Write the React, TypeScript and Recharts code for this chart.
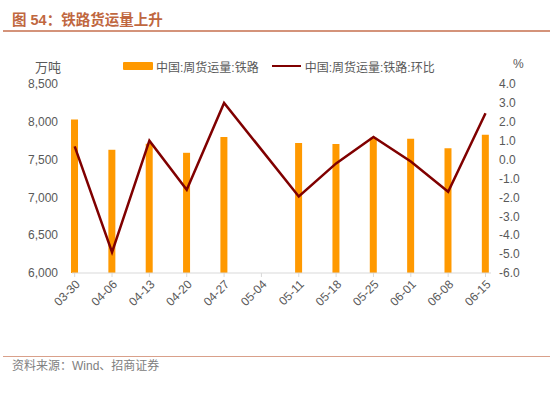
import { ComposedChart, Bar, Line, XAxis, YAxis } from 'recharts';

const weeks = ['03-30', '04-06', '04-13', '04-20', '04-27', '05-04', '05-11', '05-18', '05-25', '06-01', '06-08', '06-15'];
const railVolume = [8030, 7630, 7710, 7590, 7800, null, 7720, 7705, 7790, 7775, 7650, 7830];
const railWoW = [0.7, -4.9, 1.0, -1.6, 3.0, null, -1.95, -0.2, 1.2, -0.1, -1.7, 2.45];
const leftTicks = [6000, 6500, 7000, 7500, 8000, 8500];
const rightTicks = [-6, -5, -4, -3, -2, -1, 0, 1, 2, 3, 4];

const data = weeks.map((w, i) => ({ i, week: w, volume: railVolume[i], wow: railWoW[i] }));

const FONT = '"Liberation Sans", "Noto Sans CJK SC", sans-serif';
const TEXT = '#595959';

export default function App() {
  return (
    <div style={{ position: 'absolute', left: 0, top: 0, width: 550, height: 394, background: '#fff', fontFamily: FONT }}>
      <div style={{ position: 'absolute', left: 12, top: 10, fontSize: 14.5, fontWeight: 'bold', color: '#c0673f', lineHeight: '20px' }}>
        图 54：铁路货运量上升
      </div>
      <div style={{ position: 'absolute', left: 3, top: 30, width: 547, height: 2, background: '#d4937a' }} />

      <div style={{ position: 'absolute', left: 35, top: 57, fontSize: 13, color: TEXT }}>万吨</div>
      <div style={{ position: 'absolute', left: 513, top: 57, fontSize: 12, color: TEXT }}>%</div>

      <div style={{ position: 'absolute', left: 123, top: 57, fontSize: 12, color: TEXT, display: 'flex', alignItems: 'center', height: 18 }}>
        <span style={{ display: 'inline-block', width: 30, height: 8, background: '#ff9900', borderRadius: 1, marginRight: 3 }} />
        <span>中国:周货运量:铁路</span>
        <span style={{ display: 'inline-block', width: 29, height: 2.5, background: '#800000', marginLeft: 13, marginRight: 4 }} />
        <span>中国:周货运量:铁路:环比</span>
      </div>

      <div style={{ position: 'absolute', left: 0, top: 0 }}>
        <ComposedChart width={550} height={394} data={data} margin={{ top: 84, right: 0, bottom: 71, left: 0 }}>
          <XAxis
            dataKey="i"
            type="number"
            domain={[-0.072, 11.147]}
            ticks={weeks.map((_, i) => i)}
            tickFormatter={(v: number) => weeks[Math.round(v)]}
            interval={0}
            height={50}
            stroke="#d9d9d9"
            tickSize={4}
            tickLine={{ stroke: '#d9d9d9' }}
            angle={-45}
            textAnchor="end"
            tick={{ fill: TEXT, fontSize: 12, fontFamily: FONT }}
          />
          <YAxis
            yAxisId="left"
            width={72}
            domain={[6000, 8500]}
            ticks={leftTicks}
            interval={0}
            tickFormatter={(v: number) => v.toLocaleString('en-US')}
            axisLine={false}
            tickLine={false}
            tickMargin={8}
            tick={{ fill: TEXT, fontSize: 12, fontFamily: FONT }}
          />
          <YAxis
            yAxisId="right"
            orientation="right"
            width={59}
            domain={[-6, 4]}
            ticks={rightTicks}
            interval={0}
            tickFormatter={(v: number) => v.toFixed(1)}
            axisLine={false}
            tickLine={false}
            tick={{ fill: TEXT, fontSize: 12, fontFamily: FONT }}
          />
          <Bar yAxisId="left" dataKey="volume" fill="#ff9900" barSize={7} isAnimationActive={false} />
          <Line
            yAxisId="right"
            dataKey="wow"
            stroke="#800000"
            strokeWidth={2.5}
            dot={false}
            connectNulls
            type="linear"
            isAnimationActive={false}
          />
        </ComposedChart>
      </div>

      <div style={{ position: 'absolute', left: 3, top: 356, width: 547, height: 1, background: '#d9a08a' }} />
      <div style={{ position: 'absolute', left: 12, top: 358, fontSize: 12, color: '#808080', lineHeight: '16px' }}>
        资料来源：Wind、招商证券
      </div>
    </div>
  );
}
